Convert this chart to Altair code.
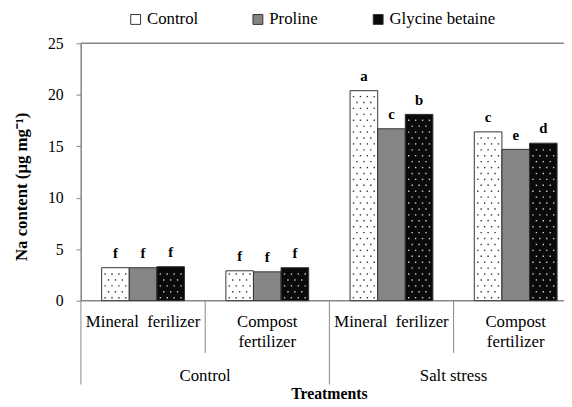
import altair as alt
import pandas as pd

# ---------------- data ----------------
treatments = ["Control", "Proline", "Glycine betaine"]
fertilizers = ["Mineral\u00a0 ferilizer", "Compost\nfertilizer", "Mineral\u00a0 ferilizer", "Compost\nfertilizer"]
stress_groups = ["Control", "Salt stress"]
na_control = [3.2, 2.9, 20.4, 16.4]
na_proline = [3.2, 2.8, 16.7, 14.7]
na_glycine = [3.3, 3.2, 18.1, 15.3]
letters_control = ["f", "f", "a", "c"]
letters_proline = ["f", "f", "c", "e"]
letters_glycine = ["f", "f", "b", "d"]
y_ticks = [0, 5, 10, 15, 20, 25]

# ---------------- layout ----------------
FONT = "Liberation Serif"
GRAY = "#878787"
W, H = 490, 261
GW = 126.0            # px per fertilizer group
BW = 28.0 / GW        # bar width in group units
PXX = 1.0 / GW
PXY = 25.0 / H

values = [na_control, na_proline, na_glycine]
letters = [letters_control, letters_proline, letters_glycine]
rows = []
for g in range(4):
    c = g + 0.5
    for k, t in enumerate(treatments):
        x0 = c + (k - 1.5) * BW
        rows.append(dict(group=g, treatment=t, value=values[k][g], letter=letters[k][g],
                         x0=x0, x1=x0 + BW, xm=x0 + BW / 2))
df = pd.DataFrame(rows)

# dot texture (derived from bar extents)
dots = []
for r in rows:
    if r["treatment"] == "Proline":
        continue
    col = "#000000" if r["treatment"] == "Control" else "#ffffff"
    j = 0
    yy = 3.0
    while yy * PXY < r["value"] - 1.5 * PXY:
        off = 3.5 if j % 2 == 0 else 7.0
        xx = off
        while xx < 27:
            dots.append(dict(x=r["x0"] + xx * PXX, y=yy * PXY, c=col))
            xx += 7.0
        yy += 6.0
        j += 1
dots_df = pd.DataFrame(dots)

xscale = alt.Scale(domain=[0, W / GW], nice=False, zero=False)
yscale = alt.Scale(domain=[0, 25], nice=False, zero=True)

bars = alt.Chart(df).mark_bar(stroke="#333333", strokeWidth=1).encode(
    x=alt.X("x0:Q", scale=xscale, axis=None),
    x2="x1:Q",
    y=alt.Y("value:Q", scale=yscale,
            axis=alt.Axis(values=y_ticks, grid=False, domainColor=GRAY, tickColor=GRAY,
                          tickSize=5, labelFont=FONT, labelFontSize=16, labelFontWeight="normal",
                          labelColor="black",
                          labelPadding=13, title="Na content (μg mg⁻¹)", titleFont=FONT,
                          titleFontSize=17, titleFontWeight="bold", titleColor="black",
                          titleAngle=-90, titleX=-60, titleY=145, titleAlign="center",
                          titleBaseline="middle")),
    y2=alt.datum(0),
    fill=alt.Fill("treatment:N",
                  scale=alt.Scale(domain=treatments, range=["#ffffff", "#858585", "#0a0a0a"]),
                  legend=alt.Legend(orient="none", legendX=47, legendY=-33, direction="horizontal",
                                    title=None, symbolType="square", symbolSize=100,
                                    symbolStrokeColor="#333333", symbolStrokeWidth=1,
                                    labelFont=FONT, labelFontSize=17, labelFontWeight="normal",
                                    labelColor="black",
                                    columnPadding=52, labelOffset=3)),
)

dot_layer = alt.Chart(dots_df).mark_square(size=2, opacity=0.8).encode(
    x=alt.X("x:Q", scale=xscale),
    y=alt.Y("y:Q", scale=yscale),
    color=alt.Color("c:N", scale=None),
)

letter_layer = alt.Chart(df).mark_text(font=FONT, fontSize=15, fontWeight="bold",
                                       baseline="bottom", dy=-7, color="black").encode(
    x=alt.X("xm:Q", scale=xscale),
    y=alt.Y("value:Q", scale=yscale),
    text="letter:N",
)

lab_df = pd.DataFrame({"x": [g + 0.5 for g in range(4)], "label": fertilizers,
                       "kind": ["m", "c", "m", "c"]})
lab_m = alt.Chart(lab_df).transform_filter("datum.kind == 'm'").mark_text(
    font=FONT, fontSize=17, fontWeight="normal", baseline="middle", color="black").encode(
    x=alt.X("x:Q", scale=xscale), y=alt.value(283), text="label:N")
lab_c = alt.Chart(lab_df).transform_filter("datum.kind == 'c'").mark_text(
    font=FONT, fontSize=17, fontWeight="normal", baseline="middle", color="black",
    lineBreak="\n", lineHeight=20).encode(
    x=alt.X("x:Q", scale=xscale), y=alt.value(283), text="label:N")

grp_df = pd.DataFrame({"x": [1.0, 3.0], "label": stress_groups})
grp = alt.Chart(grp_df).mark_text(font=FONT, fontSize=17, fontWeight="normal",
                                  baseline="middle", color="black").encode(
    x=alt.X("x:Q", scale=xscale), y=alt.value(337), text="label:N")

xtitle = alt.Chart(pd.DataFrame({"x": [2.0], "t": ["Treatments"]})).mark_text(
    font=FONT, fontSize=16, fontWeight="bold", baseline="middle", color="black").encode(
    x=alt.X("x:Q", scale=xscale), y=alt.value(356), text="t:N")

div_df = pd.DataFrame({"x": [0, 1, 2, 3], "kind": ["axis", "short", "long", "short"]})
div_axis = alt.Chart(div_df).transform_filter("datum.kind == 'axis'").mark_rule(color=GRAY).encode(
    x=alt.X("x:Q", scale=xscale), y=alt.value(0), y2=alt.value(346))
div_short = alt.Chart(div_df).transform_filter("datum.kind == 'short'").mark_rule(color=GRAY).encode(
    x=alt.X("x:Q", scale=xscale), y=alt.value(H), y2=alt.value(314))
div_long = alt.Chart(div_df).transform_filter("datum.kind == 'long'").mark_rule(color=GRAY).encode(
    x=alt.X("x:Q", scale=xscale), y=alt.value(H), y2=alt.value(346))

hl_df = pd.DataFrame({"y": [0, 25]})
hlines = alt.Chart(hl_df).mark_rule(color=GRAY, strokeWidth=1.5).encode(
    y=alt.Y("y:Q", scale=yscale), x=alt.value(0), x2=alt.value(W))

chart = alt.layer(hlines, bars, dot_layer, letter_layer, lab_m, lab_c, grp, xtitle,
                  div_axis, div_short, div_long).properties(
    width=W, height=H,
    padding={"left": 74, "top": 33, "right": 0, "bottom": 104},
    autosize=alt.AutoSizeParams(type="none"),
).configure_view(stroke=None)

chart.save("out.html", embed_options={"renderer": "svg", "actions": False})
